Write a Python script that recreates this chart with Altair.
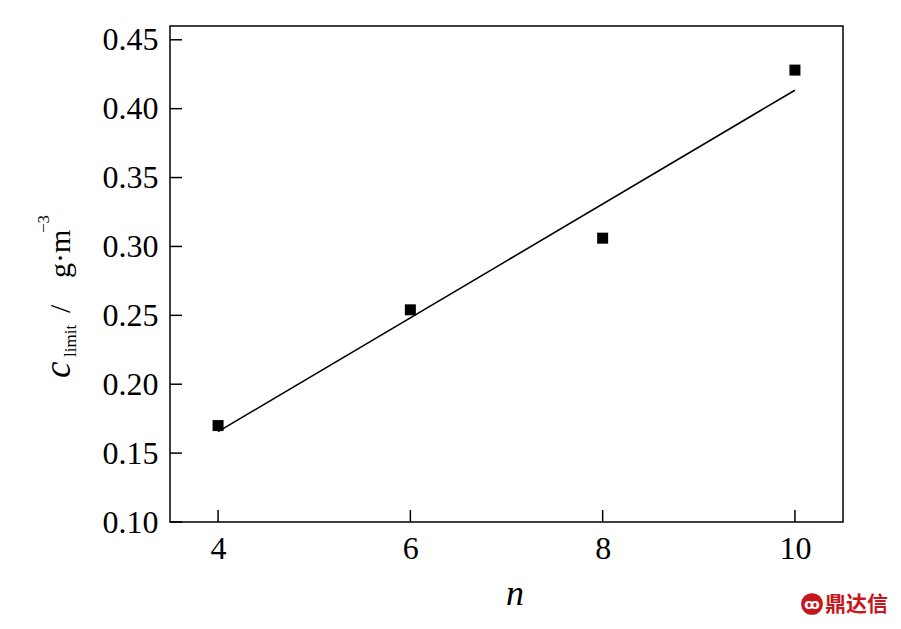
import altair as alt
import pandas as pd

# data
n_values = [4, 6, 8, 10]
c_values = [0.170, 0.254, 0.306, 0.428]
x_ticks = [4, 6, 8, 10]
y_ticks = [0.10, 0.15, 0.20, 0.25, 0.30, 0.35, 0.40, 0.45]

df = pd.DataFrame({"n": n_values, "c": c_values})
xt = pd.DataFrame({"t": x_ticks})
yt = pd.DataFrame({"t": y_ticks})
one = pd.DataFrame({"a": [0]})

W, H = 673, 496
FONT = "Liberation Serif"

xaxis = alt.Axis(values=x_ticks, format="d", ticks=False, domain=False, grid=False,
                 labelFont=FONT, labelFontSize=32, labelColor="black",
                 labelPadding=11, title=None, labelOverlap=False, labelBound=False)
yaxis = alt.Axis(values=y_ticks, format=".2f", ticks=False, domain=False, grid=False,
                 labelFont=FONT, labelFontSize=32, labelColor="black",
                 labelPadding=12, title=None, labelOverlap=False, labelBound=False)
xscale = alt.Scale(domain=[3.5, 10.5], nice=False, zero=False)
yscale = alt.Scale(domain=[0.10, 0.46], nice=False, zero=False)

points = alt.Chart(df).mark_point(shape="square", filled=True, size=121,
                                  color="black", opacity=1).encode(
    x=alt.X("n:Q", scale=xscale, axis=xaxis),
    y=alt.Y("c:Q", scale=yscale, axis=yaxis),
)

fit = alt.Chart(df).transform_regression("n", "c").mark_line(
    color="black", strokeWidth=1.6).encode(
    x=alt.X("n:Q", scale=xscale, axis=xaxis),
    y=alt.Y("c:Q", scale=yscale, axis=yaxis),
)

xtick_rules = alt.Chart(xt).mark_rule(color="black", strokeWidth=1.5).encode(
    x=alt.X("t:Q", scale=xscale, axis=xaxis),
    y=alt.value(H), y2=alt.value(H - 12),
)
ytick_rules = alt.Chart(yt).mark_rule(color="black", strokeWidth=1.5).encode(
    y=alt.Y("t:Q", scale=yscale, axis=yaxis),
    x=alt.value(0), x2=alt.value(12),
)

def label(txt, x, y, size, style="normal", angle=270, align="left",
          baseline="alphabetic", color="black", font=FONT, weight="normal"):
    return alt.Chart(one).mark_text(
        text=txt, font=font, fontSize=size, fontStyle=style, fontWeight=weight,
        angle=angle, align=align, baseline=baseline, color=color
    ).encode(x=alt.value(x), y=alt.value(y))

title_parts = [
    label("c", -100, 352, 37, style="italic"),
    label("limit", -94, 331, 17),
    label("/", -100, 287, 30),
    label("g·m", -100, 252, 30),
    label("−3", -121, 207, 17),
    label("n", 345, 579, 36, style="italic", angle=0, align="center"),
]

logo = alt.Chart(one).mark_point(shape="circle", filled=True, size=470,
                                 color="#c8161d", opacity=1).encode(
    x=alt.value(642), y=alt.value(578))
logo_inner = label("ꝏ", 642, 579, 14, angle=0, align="center", baseline="middle",
                   color="white", font="DejaVu Sans", weight="bold")
brand = label("鼎达信", 655, 579, 21, angle=0, align="left", baseline="middle",
              color="#c8161d", font="Noto Sans CJK SC", weight="bold")

chart = alt.layer(
    fit, points, xtick_rules, ytick_rules, *title_parts, logo, logo_inner, brand
).properties(
    width=W, height=H,
    autosize=alt.AutoSizeParams(type="none"),
    padding={"left": 162, "top": 18, "right": 47, "bottom": 98},
).configure(
    background="white"
).configure_view(
    stroke="black", strokeWidth=1.5
)

chart.save("out.html", embed_options={"renderer": "svg", "actions": False})
